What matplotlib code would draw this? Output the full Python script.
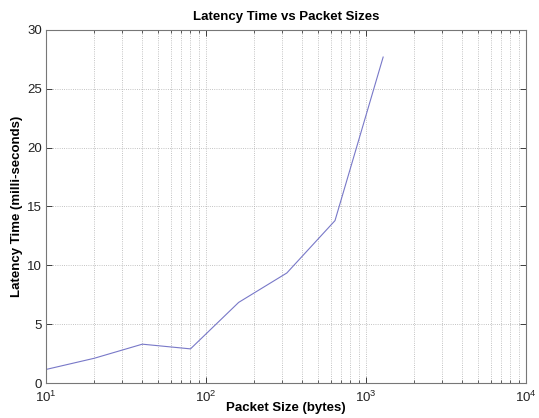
import matplotlib
matplotlib.use("Agg")
import matplotlib.pyplot as plt
from matplotlib.ticker import LogLocator, NullFormatter

plt.rcParams['font.family'] = ['Liberation Sans', 'DejaVu Sans']

packet_sizes = [10, 20, 40, 80, 160, 320, 640, 1280]
latency_ms = [1.15, 2.1, 3.3, 2.9, 6.85, 9.35, 13.8, 27.7]

title = "Latency Time vs Packet Sizes"
xlabel = "Packet Size (bytes)"
ylabel = "Latency Time (milli-seconds)"
yticks = [0, 5, 10, 15, 20, 25, 30]

fig = plt.figure(figsize=(5.39, 4.18), dpi=100)
ax = fig.add_axes([46/539, 35/418, 480/539, 353/418])
ax.semilogx(packet_sizes, latency_ms, color='#7878c8', linewidth=0.8)
ax.set_xlim(10, 1e4)
ax.set_ylim(0, 30)
ax.set_yticks(yticks)
ax.xaxis.set_major_locator(LogLocator(base=10))
ax.xaxis.set_minor_locator(LogLocator(base=10, subs=range(2, 10)))
ax.xaxis.set_minor_formatter(NullFormatter())

ax.grid(True, which='major', axis='both', linestyle=':', color='#b0b0b0', linewidth=0.6)
ax.grid(True, which='minor', axis='x', linestyle=':', color='#b0b0b0', linewidth=0.6)

ax.tick_params(which='both', direction='in', top=True, right=True, labelsize=9.5, colors='#222222')
ax.tick_params(axis='x', which='major', pad=5)
ax.tick_params(axis='y', which='major', pad=3)
ax.tick_params(which='major', length=4, width=0.6)
ax.tick_params(which='minor', length=2, width=0.5)
for s in ax.spines.values():
    s.set_color('#777777')
    s.set_linewidth(0.8)

ax.set_title(title, fontsize=9.5, fontweight='bold', pad=7)
ax.set_xlabel(xlabel, fontsize=9.5, fontweight='bold', labelpad=-2)
ax.set_ylabel(ylabel, fontsize=9.5, fontweight='bold', labelpad=3)

fig.savefig("out.png", dpi=100)
